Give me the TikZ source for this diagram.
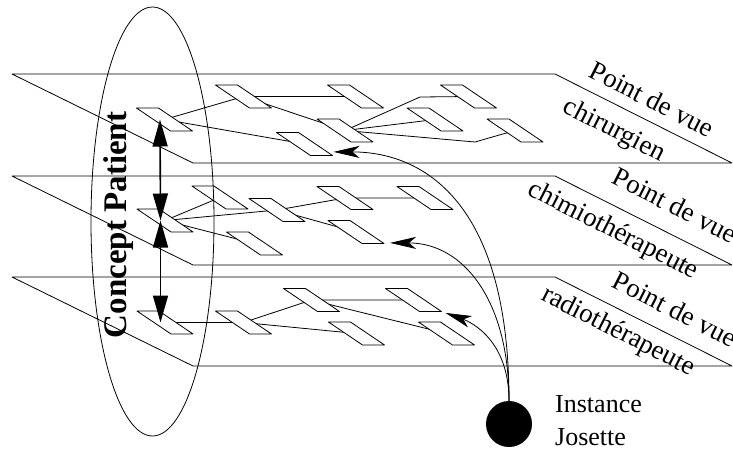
\documentclass[tikz,border=0pt]{standalone}
\usepackage{fontspec}
\setmainfont{Liberation Serif}
\usetikzlibrary{arrows.meta, positioning, backgrounds}

\tikzset{
  vnode/.style={draw, fill=white, rectangle, minimum width=22pt, minimum height=23pt, inner sep=0pt, xslant=-1.48, line width=0.8pt},
  link/.style={line width=0.8pt},
  dbl/.style={line width=1.6pt, {Triangle[length=27pt,width=15pt]}-{Triangle[length=27pt,width=15pt]}},
  inst/.style={line width=0.8pt, -{Stealth[length=26pt,width=12pt,inset=7pt]}},
  vue/.style={font=\fontsize{27}{32}\selectfont, rotate=-27, inner sep=0pt}
}

\begin{document}
\begin{tikzpicture}[x=1pt, y=-1pt, line join=round]
 \useasboundingbox (0,0) rectangle (733,451);
 \foreach \dy in {0,102,203}
   \draw[link] (12,74+\dy) -- (555,74+\dy) -- (732,163+\dy) -- (193,163+\dy) -- cycle;

 \node[vnode] (t1) at (164.5,119.5) {};
 \node[vnode] (t2) at (243.5,96.5) {};
 \node[vnode] (t3) at (355.5,96.5) {};
 \node[vnode] (t4) at (468.5,96.5) {};
 \node[vnode] (t5) at (304.5,144) {};
 \node[vnode] (t6) at (345,130.5) {};
 \node[vnode] (t7) at (435,119.5) {};
 \node[vnode] (t8) at (515,130.5) {};

 \node[vnode] (m1) at (165,220.5) {};
 \node[vnode] (m2) at (220,197.5) {};
 \node[vnode] (m3) at (277,210) {};
 \node[vnode] (m4) at (345,198) {};
 \node[vnode] (m5) at (425,198) {};
 \node[vnode] (m6) at (356,232) {};
 \node[vnode] (m7) at (254.5,243.5) {};

 \node[vnode] (b1) at (165,322.5) {};
 \node[vnode] (b2) at (243.5,322.5) {};
 \node[vnode] (b3) at (311.5,300) {};
 \node[vnode] (b4) at (413.5,300) {};
 \node[vnode] (b5) at (356.5,333.5) {};
 \node[vnode] (b6) at (446.5,333.5) {};

 \begin{scope}[on background layer]
  \draw[link] (t1.center) -- (t2.center) (t1.center) -- (t5.center) (t2.center) -- (t3.center)
   (t2.center) -- (t6.center) (t6.center) -- (t7.center)
   (t6.center) -- (420,97) -- (t4.center) (t6.center) -- (475,142) -- (t8.center);
  \draw[link] (m1.center) -- (m2.center) (m1.center) -- (m3.center) (m3.center) -- (m4.center)
   (m4.center) -- (m5.center) (m1.center) -- (m7.center) (m3.center) -- (m6.center);
  \draw[link] (b1.center) -- (b2.center) (b2.center) -- (b3.center) (b2.center) -- (b5.center)
   (b3.center) -- (b4.center) (b3.center) -- (b6.center);
 \end{scope}

 \draw[link] (152.5,221.5) ellipse [x radius=61.5pt, y radius=214.5pt];
 \node[rotate=90, anchor=base, font=\fontsize{33}{38}\selectfont\bfseries] (cp) at (126,225) {Concept Patient};
 \draw[dbl] ([xshift=-4.5pt]t1.center) -- ([xshift=-4.5pt]m1.center);
 \draw[dbl] ([xshift=-4.5pt]m1.center) -- ([xshift=-4.5pt]b1.center);

 \node[circle, fill=black, minimum size=46pt, inner sep=0pt] (jos) at (509,424) {};
 \node[font=\fontsize{26}{33}\selectfont, align=left, anchor=west, inner sep=0pt] (lbl) at (555,421) {Instance\\Josette};
 \draw[inst] (jos.north) .. controls +(0,-201) and +(88,0) .. ([yshift=4pt]t5.south east);
 \draw[inst] (jos.north) .. controls +(0,-101) and +(73,0) .. ([xshift=5pt,yshift=1pt]m6.south east);
 \draw[inst] (jos.north) .. controls +(0,-61) and +(25,9) .. ([xshift=3pt,yshift=-1pt]b4.south east);

 \node[vue] (v1a) at (652,99) {Point de vue};
 \node[vue] (v1b) at (614,131) {chirurgien};
 \node[vue] (v2a) at (675,205) {Point de vue};
 \node[vue] (v2b) at (613,231) {chimiothérapeute};
 \node[vue] (v3a) at (675,309) {Point de vue};
 \node[vue] (v3b) at (618,332) {radiothérapeute};
\end{tikzpicture}
\end{document}
